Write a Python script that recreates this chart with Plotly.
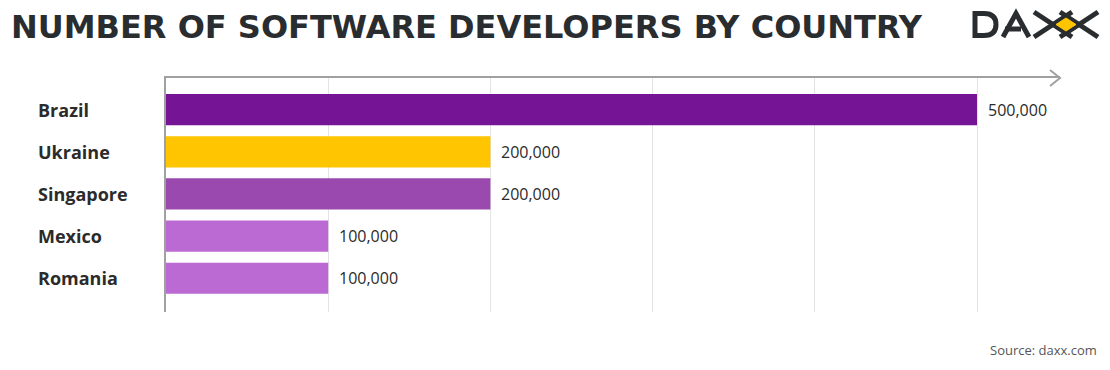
import plotly.graph_objects as go

countries = ["Brazil", "Ukraine", "Singapore", "Mexico", "Romania"]
developers = [500000, 200000, 200000, 100000, 100000]
value_labels = ["500,000", "200,000", "200,000", "100,000", "100,000"]
bar_colors = ["#761496", "#FFC500", "#9A4AAE", "#BC6AD3", "#BC6AD3"]

OFF = 8  # browser body margin
W, H = 1110 - OFF, 370 - OFF
L, R, T, B = 166 - OFF, 50, 78 - OFF, 58
plot_w = W - L - R
plot_h = H - T - B
x_max = 500000 * plot_w / 811


def px_x(p):
    return (p - OFF - L) / plot_w


def px_y(p):
    return 1 - (p - OFF - T) / plot_h


fig = go.Figure()
fig.add_trace(go.Bar(
    y=countries, x=developers, orientation="h",
    marker=dict(color=bar_colors, line=dict(width=0)),
    width=0.74, hoverinfo="skip", showlegend=False,
))

ann = []
for c, v, t in zip(countries, developers, value_labels):
    ann.append(dict(x=v, y=c, xref="x", yref="y", text=t, showarrow=False,
                    xanchor="left", xshift=9,
                    font=dict(family="Open Sans", size=16, color="#2b2b2b")))
    ann.append(dict(x=px_x(36), y=c, xref="paper", yref="y", text="<b>%s</b>" % c,
                    showarrow=False, xanchor="left",
                    font=dict(family="Open Sans", size=18, color="#2b2b2b")))

ann.append(dict(x=px_x(9), y=px_y(27), xref="paper", yref="paper",
                text="<b>NUMBER OF SOFTWARE DEVELOPERS BY COUNTRY</b>", showarrow=False,
                xanchor="left", yanchor="middle",
                font=dict(family="DejaVu Sans", size=32, color="#2a2d30")))
ann.append(dict(x=px_x(1099), y=px_y(350), xref="paper", yref="paper",
                text="Source: daxx.com", showarrow=False, xanchor="right", yanchor="middle",
                font=dict(family="Open Sans", size=13, color="#555555")))

LOGO = "#2a2d30"
logo_w = 5


def path(pts, close=False):
    s = "M " + " L ".join("%f,%f" % (px_x(x), px_y(y)) for x, y in pts)
    return s + (" Z" if close else "")


shapes = [
    # arrow head on the top axis
    dict(type="path", xref="paper", yref="paper",
         path=path([(1050, 70), (1060, 78), (1050, 86)]),
         line=dict(color="#a0a0a0", width=2)),
    # logo D
    dict(type="path", xref="paper", yref="paper",
         path="M %f,%f L %f,%f L %f,%f Q %f,%f %f,%f Q %f,%f %f,%f L %f,%f Z" % (
             px_x(975), px_y(13.5), px_x(984), px_y(13.5), px_x(984), px_y(13.5),
             px_x(996), px_y(13.5), px_x(996), px_y(24.5),
             px_x(996), px_y(35.5), px_x(984), px_y(35.5), px_x(975), px_y(35.5)),
         line=dict(color=LOGO, width=logo_w)),
    # logo A
    dict(type="path", xref="paper", yref="paper",
         path=path([(1003, 37), (1016, 13.5), (1029, 37)]),
         line=dict(color=LOGO, width=logo_w)),
    dict(type="path", xref="paper", yref="paper",
         path=path([(1005, 29), (1021, 29)]),
         line=dict(color=LOGO, width=logo_w)),
    # logo X X
    dict(type="path", xref="paper", yref="paper",
         path=path([(1034, 12), (1072, 37)]), line=dict(color=LOGO, width=logo_w)),
    dict(type="path", xref="paper", yref="paper",
         path=path([(1034, 37), (1072, 12)]), line=dict(color=LOGO, width=logo_w)),
    dict(type="path", xref="paper", yref="paper",
         path=path([(1060, 12), (1098, 37)]), line=dict(color=LOGO, width=logo_w)),
    dict(type="path", xref="paper", yref="paper",
         path=path([(1060, 37), (1098, 12)]), line=dict(color=LOGO, width=logo_w)),
    dict(type="path", xref="paper", yref="paper",
         path=path([(1066, 18), (1076, 24.5), (1066, 31), (1056, 24.5)], close=True),
         fillcolor="#FFC500", line=dict(color="#FFC500", width=1)),
]

fig.update_layout(
    width=W, height=H,
    margin=dict(l=L, r=R, t=T, b=B),
    paper_bgcolor="white", plot_bgcolor="white",
    annotations=ann, shapes=shapes,
    xaxis=dict(range=[0, x_max], dtick=100000, showgrid=True, gridcolor="#e3e3e3", gridwidth=1,
               showticklabels=False, ticks="", zeroline=False, side="top",
               showline=True, linecolor="#a0a0a0", linewidth=2),
    yaxis=dict(categoryorder="array", categoryarray=countries, range=[4.8, -0.75],
               showticklabels=False, ticks="", showgrid=False, zeroline=False,
               showline=True, linecolor="#a0a0a0", linewidth=2),
)

fig.write_html("out.html")
